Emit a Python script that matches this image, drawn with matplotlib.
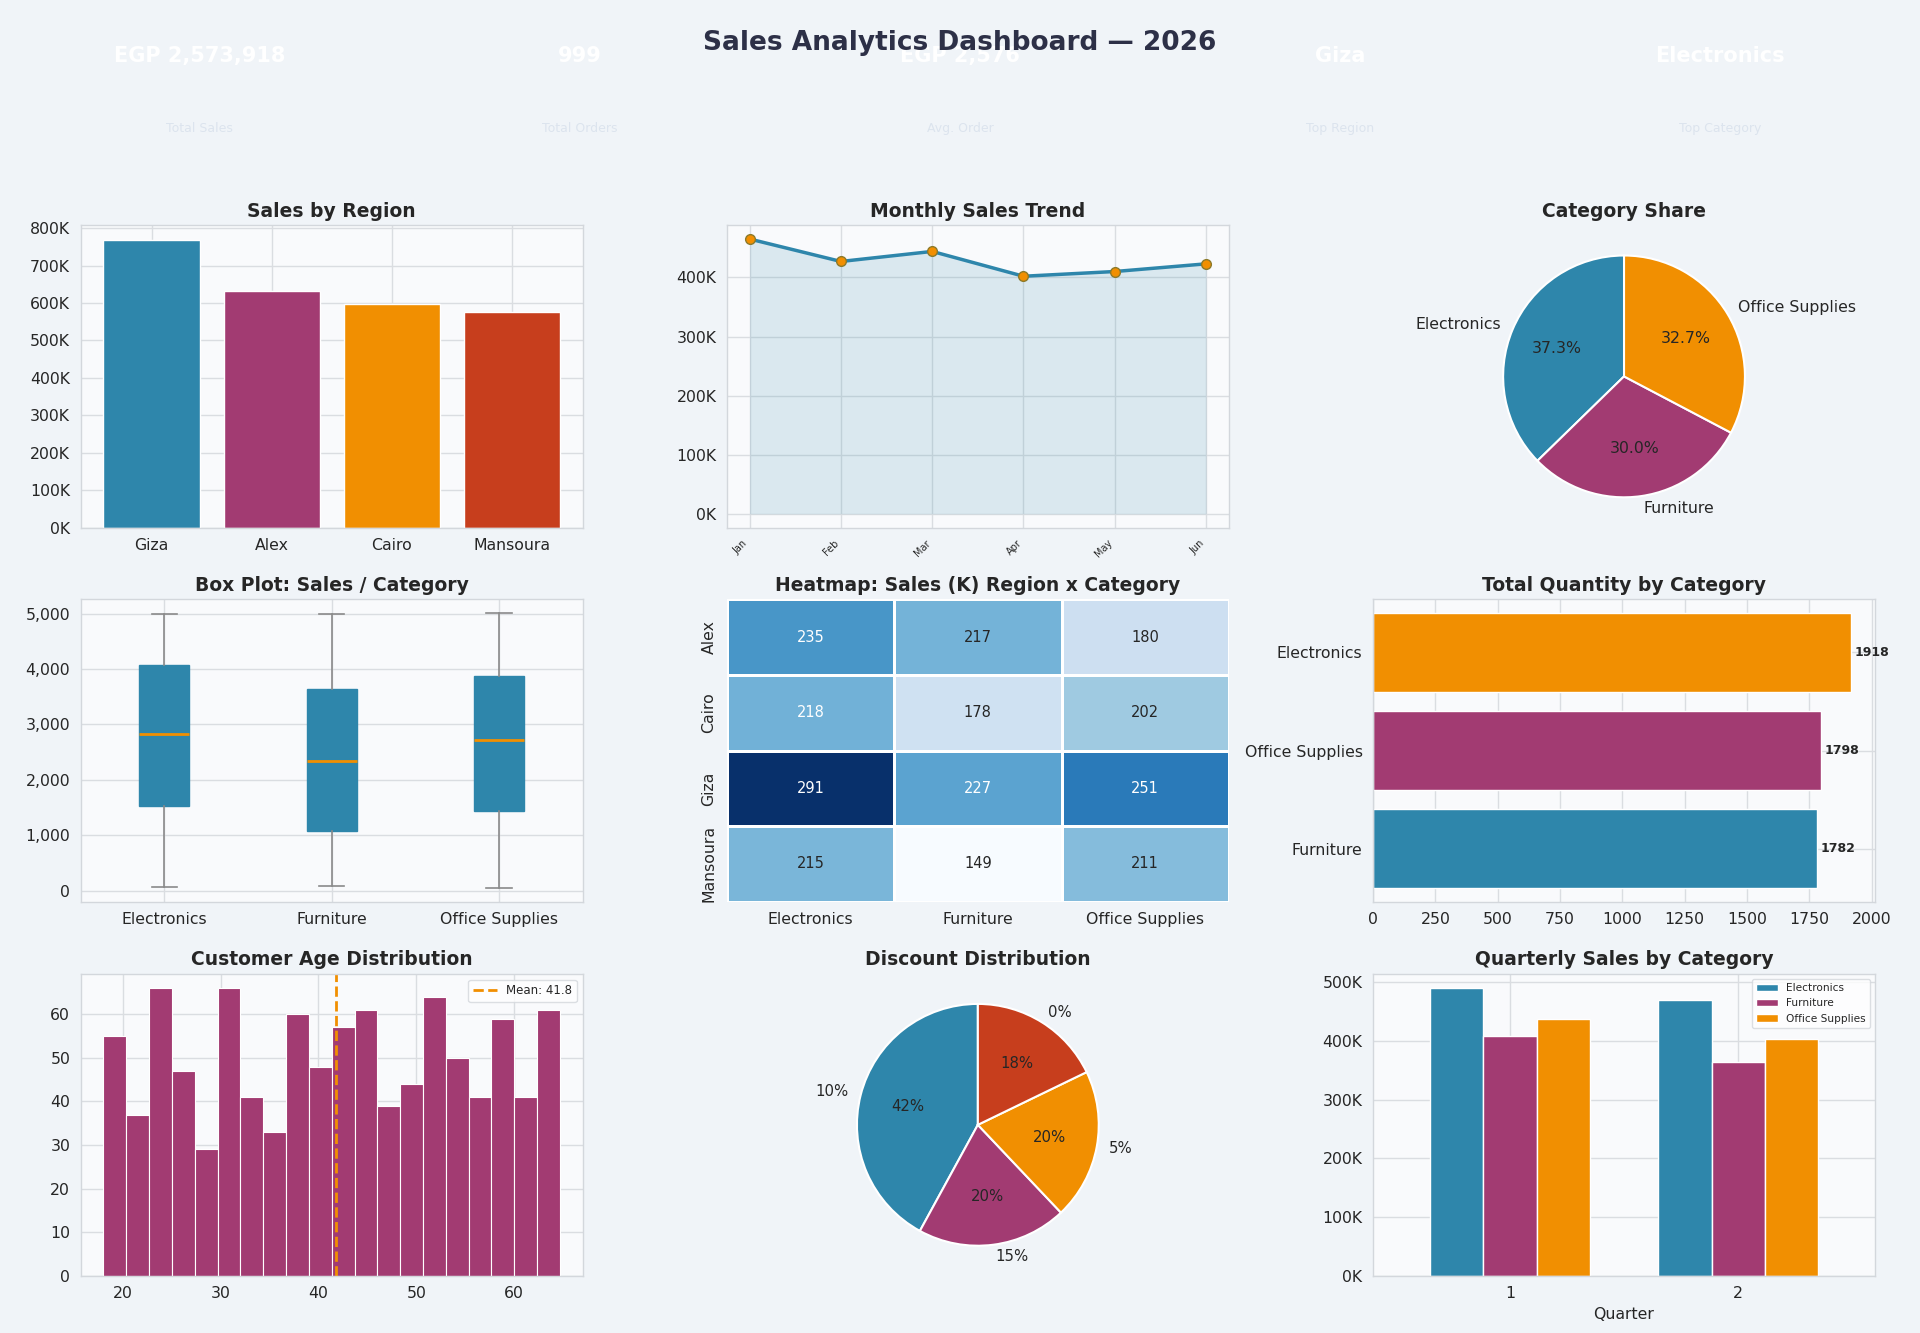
import numpy as np
import pandas as pd
import matplotlib
matplotlib.use("Agg")
import matplotlib.pyplot as plt
from matplotlib.ticker import FuncFormatter

# ---------------- data ----------------
kpi_values = ["EGP 2,573,918", "999", "EGP 2,576", "Giza", "Electronics"]
kpi_labels = ["Total Sales", "Total Orders", "Avg. Order", "Top Region", "Top Category"]

regions = ["Giza", "Alex", "Cairo", "Mansoura"]
region_sales = [769000, 632000, 598000, 575000]

months = ["Jan", "Feb", "Mar", "Apr", "May", "Jun"]
monthly_sales = [465000, 427000, 444000, 402000, 410000, 423000]

categories = ["Electronics", "Furniture", "Office Supplies"]
category_sales = [960000, 772000, 842000]

box_whislo = [66, 78, 48]
box_q1 = [1521, 1072, 1443]
box_med = [2832, 2335, 2713]
box_q3 = [4066, 3635, 3874]
box_whishi = [4988, 4988, 5006]

heat_rows = ["Alex", "Cairo", "Giza", "Mansoura"]
heat_values = [[235, 217, 180],
               [218, 178, 202],
               [291, 227, 251],
               [215, 149, 211]]

qty_categories = ["Furniture", "Office Supplies", "Electronics"]
qty_values = [1782, 1798, 1918]

age_counts = [55, 37, 66, 47, 29, 66, 41, 33, 60, 48,
              57, 61, 39, 44, 64, 50, 41, 59, 41, 61]
age_min, age_max = 18.0, 64.7
age_mean = 41.8

discount_labels = ["10%", "15%", "5%", "0%"]
discount_counts = [420, 200, 201, 178]

quarters = [1, 2]
q_electronics = [490000, 470000]
q_furniture = [408000, 364000]
q_office = [438000, 404000]

# ---------------- style ----------------
BLUE, PURPLE, ORANGE, RED = "#2E86AB", "#A23B72", "#F18F01", "#C73E1D"
BG = "#F0F4F8"
AXBG = "#F9FAFC"
DARK = "#262626"
TICK = 11.3
TITLE = 13.5

plt.rcParams.update({
    "font.family": ["DejaVu Sans"],
    "axes.facecolor": AXBG,
    "axes.edgecolor": "#D3D7DC",
    "axes.linewidth": 1.0,
    "axes.grid": True,
    "grid.color": "#DADDE1",
    "grid.linewidth": 1.0,
    "axes.axisbelow": True,
    "xtick.major.size": 0, "ytick.major.size": 0,
    "xtick.major.pad": 7.5, "ytick.major.pad": 7.5,
    "xtick.labelsize": TICK, "ytick.labelsize": TICK,
    "xtick.color": DARK, "ytick.color": DARK,
    "text.color": DARK,
    "axes.labelcolor": DARK,
    "axes.titlesize": TITLE, "axes.titleweight": "bold",
    "axes.titlecolor": DARK,
    "patch.edgecolor": "white", "patch.force_edgecolor": True,
})

kfmt = FuncFormatter(lambda v, p: f"{v/1000:.0f}K")

fig = plt.figure(figsize=(19.2, 13.33), dpi=100, facecolor=BG)
gs = fig.add_gridspec(3, 3, left=0.042, right=0.9766, bottom=0.0428, top=0.831,
                      wspace=0.287, hspace=0.238)

# KPI texts
for i, (v, l) in enumerate(zip(kpi_values, kpi_labels)):
    x = 0.5 + (i - 2) * 0.198
    fig.text(x, 0.9577, v, ha="center", va="center", fontsize=15,
             fontweight="bold", color="white")
    fig.text(x, 0.9037, l, ha="center", va="center", fontsize=9, color="#DCE4EE")

fig.text(0.5, 0.9677, "Sales Analytics Dashboard \u2014 2026", ha="center", va="center",
         fontsize=19, fontweight="bold", color="#2D3047", zorder=10)

# 1. Sales by Region
ax = fig.add_subplot(gs[0, 0])
ax.bar(regions, region_sales, color=[BLUE, PURPLE, ORANGE, RED], width=0.8)
ax.yaxis.set_major_formatter(kfmt)
ax.set_title("Sales by Region")

# 2. Monthly trend
ax = fig.add_subplot(gs[0, 1])
x = np.arange(len(months))
ax.fill_between(x, monthly_sales, color=BLUE, alpha=0.15, linewidth=0)
ax.plot(x, monthly_sales, color=BLUE, linewidth=2.5, marker="o", markersize=7,
        markerfacecolor=ORANGE, markeredgecolor="#8C7A2A", markeredgewidth=1)
ax.set_xticks(x)
ax.set_xticklabels(months, rotation=45, ha="right", fontsize=7)
ax.yaxis.set_major_formatter(kfmt)
ax.set_title("Monthly Sales Trend")

# 3. Category share
ax = fig.add_subplot(gs[0, 2])
ax.pie(category_sales, labels=categories, colors=[BLUE, PURPLE, ORANGE],
       autopct="%1.1f%%", startangle=90,
       wedgeprops=dict(edgecolor="white", linewidth=1.5),
       textprops=dict(fontsize=TICK, color=DARK))
ax.set_title("Category Share")

# 4. Box plot
ax = fig.add_subplot(gs[1, 0])
stats = []
for c, lo, q1, md, q3, hi in zip(categories, box_whislo, box_q1, box_med, box_q3, box_whishi):
    stats.append(dict(label=c, whislo=lo, q1=q1, med=md, q3=q3, whishi=hi, fliers=[]))
ax.bxp(stats, patch_artist=True, showfliers=False,
       boxprops=dict(facecolor=BLUE, edgecolor=BLUE, linewidth=1),
       medianprops=dict(color=ORANGE, linewidth=2),
       whiskerprops=dict(color="#8A8A8A", linewidth=1.2),
       capprops=dict(color="#8A8A8A", linewidth=1.2))
ax.yaxis.set_major_formatter(FuncFormatter(lambda v, p: f"{v:,.0f}"))
ax.set_title("Box Plot: Sales / Category")

# 5. Heatmap
ax = fig.add_subplot(gs[1, 1])
H = np.array(heat_values, dtype=float)
cmap = plt.get_cmap("Blues")
norm = plt.Normalize(H.min(), H.max())
ax.pcolormesh(H, cmap=cmap, norm=norm, edgecolors="white", linewidth=1.0)
ax.set_xlim(0, H.shape[1])
ax.set_ylim(H.shape[0], 0)
ax.grid(False)
for s in ax.spines.values():
    s.set_visible(False)
ax.set_xticks(np.arange(H.shape[1]) + 0.5)
ax.set_xticklabels(categories)
ax.set_yticks(np.arange(H.shape[0]) + 0.5)
ax.set_yticklabels(heat_rows, rotation=90, va="center")


def rel_lum(rgb):
    c = np.array(rgb[:3])
    c = np.where(c <= 0.03928, c / 12.92, ((c + 0.055) / 1.055) ** 2.4)
    return 0.2126 * c[0] + 0.7152 * c[1] + 0.0722 * c[2]


for r in range(H.shape[0]):
    for c in range(H.shape[1]):
        col = cmap(norm(H[r, c]))
        tc = DARK if rel_lum(col) > 0.408 else "white"
        ax.text(c + 0.5, r + 0.5, f"{H[r, c]:.0f}", ha="center", va="center",
                fontsize=10.5, color=tc)
ax.set_title("Heatmap: Sales (K) Region x Category")

# 6. Total quantity
ax = fig.add_subplot(gs[1, 2])
bars = ax.barh(qty_categories, qty_values, color=[BLUE, PURPLE, ORANGE], height=0.8)
for b, v in zip(bars, qty_values):
    ax.text(b.get_width() + 15, b.get_y() + b.get_height() / 2, f"{v}",
            va="center", ha="left", fontsize=9, fontweight="bold")
ax.set_title("Total Quantity by Category")

# 7. Age histogram
ax = fig.add_subplot(gs[2, 0])
edges = np.linspace(age_min, age_max, len(age_counts) + 1)
centers = (edges[:-1] + edges[1:]) / 2
ax.hist(centers, bins=edges, weights=age_counts, color=PURPLE, edgecolor="white",
        linewidth=0.8)
ax.axvline(age_mean, color=ORANGE, linestyle="--", linewidth=2,
           label=f"Mean: {age_mean:.1f}")
ax.legend(loc="upper right", fontsize=8.5, frameon=True, facecolor="white",
          edgecolor="#D3D7DC")
ax.set_title("Customer Age Distribution")

# 8. Discount distribution
ax = fig.add_subplot(gs[2, 1])
ax.pie(discount_counts, labels=discount_labels, colors=[BLUE, PURPLE, ORANGE, RED],
       autopct="%1.0f%%", startangle=90,
       wedgeprops=dict(edgecolor="white", linewidth=1.5),
       textprops=dict(fontsize=10.7, color=DARK))
ax.set_title("Discount Distribution")

# 9. Quarterly sales
ax = fig.add_subplot(gs[2, 2])
qdf = pd.DataFrame({"Electronics": q_electronics, "Furniture": q_furniture,
                    "Office Supplies": q_office}, index=quarters)
qdf.plot(kind="bar", ax=ax, width=0.7, rot=0, color=[BLUE, PURPLE, ORANGE],
         edgecolor="white")
ax.yaxis.set_major_formatter(kfmt)
ax.set_xlabel("Quarter", fontsize=TICK)
ax.legend(loc="upper right", fontsize=7.6, frameon=True, facecolor="white",
          edgecolor="#D3D7DC")
ax.grid(True)
ax.set_title("Quarterly Sales by Category")

fig.savefig("out.png", dpi=100, facecolor=BG)
